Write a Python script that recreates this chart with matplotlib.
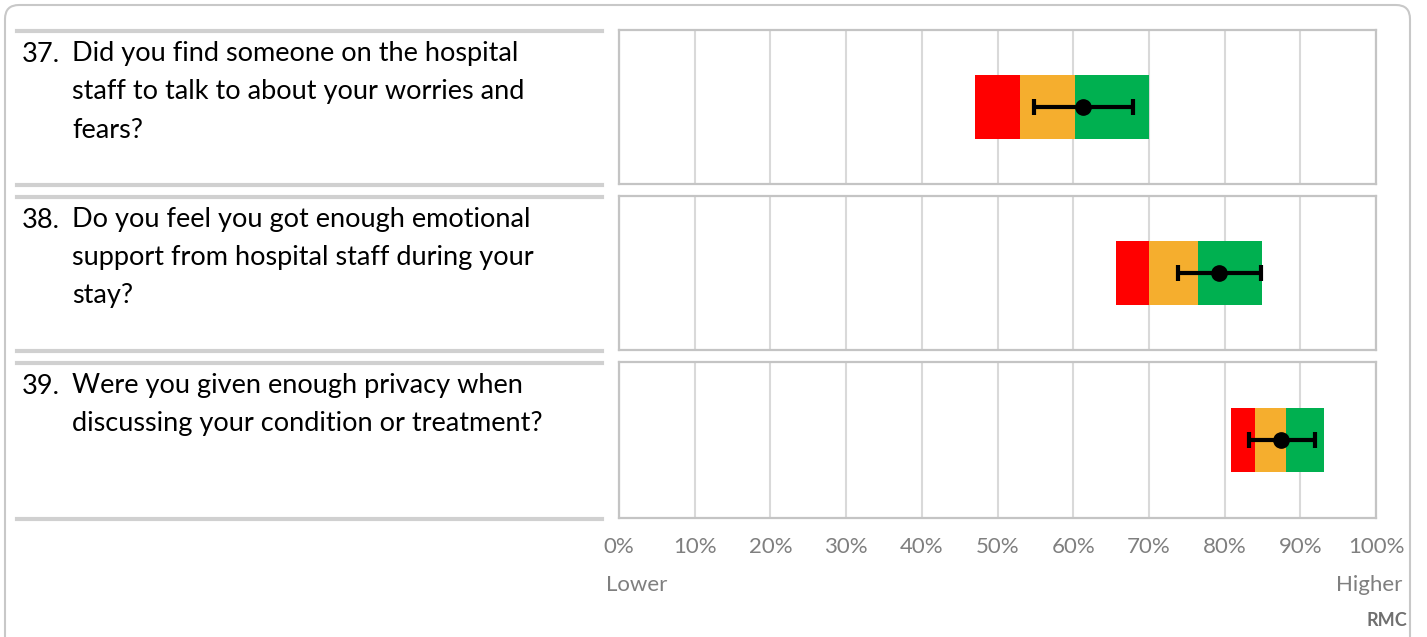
import matplotlib
matplotlib.use("Agg")
import matplotlib.pyplot as plt
from matplotlib.patches import FancyBboxPatch
from matplotlib.lines import Line2D
from matplotlib.transforms import IdentityTransform

# Survey questions and scores (percent)
numbers = ["37.", "38.", "39."]
questions = [
    ["Did you find someone on the hospital", "staff to talk to about your worries and", "fears?"],
    ["Do you feel you got enough emotional", "support from hospital staff during your", "stay?"],
    ["Were you given enough privacy when", "discussing your condition or treatment?"],
]
red_start = [47.0, 65.6, 80.8]
amber_start = [53.0, 70.0, 84.0]
green_start = [60.2, 76.5, 88.1]
green_end = [70.0, 84.9, 93.1]
score = [61.3, 79.3, 87.5]
ci_low = [54.8, 73.8, 83.2]
ci_high = [67.9, 84.8, 91.9]

tick_values = list(range(0, 101, 10))
tick_labels = [f"{v}%" for v in tick_values]

W, H = 1427, 637
plt.rcParams["font.family"] = ["Lato", "DejaVu Sans"]
fig = plt.figure(figsize=(W / 100, H / 100), dpi=100)

RED = "#FF0000"
AMBER = "#F5AE2E"
GREEN = "#00B050"
GRID = "#D9D9D9"
FRAME = "#C4C4C4"
TEXTGRAY = "#7F7F7F"
SEP = "#D0D0D0"

# outer rounded frame (pixel coordinates)
frame = FancyBboxPatch((5, -20), 1405, 20 + (H - 5), boxstyle="round,pad=0,rounding_size=14",
                       transform=IdentityTransform(), facecolor="none",
                       edgecolor="#C8C8C8", linewidth=1.5, zorder=-1)
fig.patches.append(frame)

x0, x1 = 619, 1376
panels_px = [(30, 184), (196, 350), (362, 518)]


def fx(px):
    return px / W


def fy(py):
    return 1 - py / H


for i, (top, bot) in enumerate(panels_px):
    ax = fig.add_axes([fx(x0), fy(bot), fx(x1 - x0), (bot - top) / H])
    ax.set_xlim(0, 100)
    ax.set_ylim(-0.5, 0.5)
    ax.set_yticks([])
    ax.set_xticks(tick_values)
    ax.grid(axis="x", color=GRID, linewidth=1.5, zorder=0)
    ax.set_axisbelow(True)
    for s in ax.spines.values():
        s.set_color(FRAME)
        s.set_linewidth(1.6)
    ax.tick_params(axis="x", length=0, pad=14, labelsize=16, labelcolor=TEXTGRAY)
    if i < 2:
        ax.set_xticklabels([])
    else:
        ax.set_xticklabels(tick_labels)

    h = 0.41
    ax.barh(0, amber_start[i] - red_start[i], left=red_start[i], height=h, color=RED, zorder=2)
    ax.barh(0, green_start[i] - amber_start[i], left=amber_start[i], height=h, color=AMBER, zorder=2)
    ax.barh(0, green_end[i] - green_start[i], left=green_start[i], height=h, color=GREEN, zorder=2)
    ax.errorbar(score[i], 0,
                xerr=[[score[i] - ci_low[i]], [ci_high[i] - score[i]]],
                fmt="o", color="black", markersize=11, elinewidth=3,
                capsize=6, capthick=3, zorder=3)

    # question text with separators
    fig.add_artist(Line2D([fx(17), fx(602)], [fy(top + 1), fy(top + 1)], color=SEP, linewidth=3))
    fig.add_artist(Line2D([fx(17), fx(602)], [fy(bot + 1), fy(bot + 1)], color=SEP, linewidth=3))
    base = top + 24
    fig.text(fx(22), fy(base), numbers[i], fontsize=19.5, va="center", ha="left", color="black")
    for j, line in enumerate(questions[i]):
        fig.text(fx(72), fy(base + 38 * j), line, fontsize=19.5, va="center", ha="left", color="black")

fig.text(fx(606), fy(585), "Lower", fontsize=16, color=TEXTGRAY, va="center", ha="left")
fig.text(fx(1402), fy(585), "Higher", fontsize=16, color=TEXTGRAY, va="center", ha="right")
fig.text(fx(1407), fy(620), "RMC", fontsize=13, color="#6F6F6F", fontweight="bold", va="center", ha="right")

fig.savefig("out.png", dpi=100)
